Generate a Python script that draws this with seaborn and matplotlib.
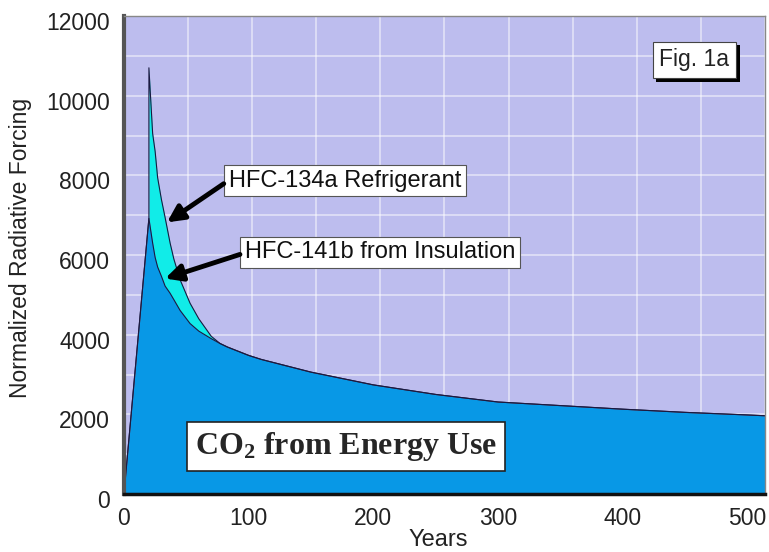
import numpy as np
import pandas as pd
import matplotlib
matplotlib.use("Agg")
import matplotlib.pyplot as plt
import matplotlib.transforms as mtransforms
import matplotlib.patheffects as pe
from matplotlib.ticker import MultipleLocator
import seaborn as sns

# values
years = [0, 20, 20, 23, 25, 27, 30, 33, 37, 40, 45, 53, 60, 70, 77, 83, 100,
         110, 150, 200, 250, 300, 350, 400, 450, 500, 514]
co2_energy = [0, 6920, 6920, 6300, 5940, 5700, 5470, 5220, 5040, 4880, 4610,
              4280, 4090, 3900, 3780, 3690, 3480, 3380, 3060, 2740, 2500,
              2310, 2220, 2130, 2050, 1985, 1965]
total_forcing = [0, 6920, 10700, 9050, 8600, 7940, 7400, 6940, 6300, 5900,
                 5380, 4790, 4400, 3960, 3780, 3690, 3480, 3380, 3060, 2740,
                 2500, 2310, 2220, 2130, 2050, 1985, 1965]

df = pd.DataFrame({"Years": years, "CO2": co2_energy, "Total": total_forcing})

sns.set_style("white", {"axes.facecolor": "#bdbdee"})
plt.rcParams["font.family"] = ["Liberation Sans", "DejaVu Sans"]
plt.rcParams["mathtext.fontset"] = "custom"
plt.rcParams["mathtext.bf"] = "Liberation Serif:bold"
plt.rcParams["mathtext.rm"] = "Liberation Serif:bold"

fig = plt.figure(figsize=(7.69, 5.52), dpi=100)
ax = fig.add_axes([0.1612, 0.105, 0.8336, 0.866])

ax.fill_between(df["Years"], df["CO2"], df["Total"], color="#11ece8",
                zorder=2, linewidth=0)
ax.fill_between(df["Years"], 0, df["CO2"], color="#0898e6", zorder=3,
                linewidth=0)
sns.lineplot(data=df, x="Years", y="Total", ax=ax, color="#1a1a40",
             linewidth=0.8, sort=False, estimator=None, zorder=4)
sns.lineplot(data=df, x="Years", y="CO2", ax=ax, color="#1a1a40",
             linewidth=0.8, sort=False, estimator=None, zorder=4)

ax.set_xlim(0, 514)
ax.set_ylim(0, 12000)
ax.xaxis.set_major_locator(MultipleLocator(100))
ax.xaxis.set_minor_locator(MultipleLocator(51.4))
ax.yaxis.set_major_locator(MultipleLocator(2000))
ax.yaxis.set_minor_locator(MultipleLocator(1000))
ax.grid(which="minor", color="white", alpha=0.55, linewidth=1.2, zorder=1)
ax.grid(which="major", axis="y", color="white", alpha=0.55, linewidth=1.2,
        zorder=1)
ax.grid(which="major", axis="x", visible=False)
ax.set_axisbelow(True)
ax.tick_params(which="both", length=0, labelsize=16.5, colors="#222222")
ax.tick_params(axis="y", pad=10)
ax.tick_params(axis="x", pad=9)
# y labels in the reference sit a few pixels below their tick
down = mtransforms.ScaledTranslation(0, -5 / 100, fig.dpi_scale_trans)
for t in ax.yaxis.get_major_ticks():
    t.label1.set_transform(t.label1.get_transform() + down)

ax.set_xlabel("Years", fontsize=17, color="#222222")
ax.set_ylabel("Normalized Radiative Forcing", fontsize=16.5, color="#222222")
ax.xaxis.set_label_coords(0.49, -0.074)
ax.yaxis.set_label_coords(-0.143, 0.515)

for side in ["top", "right"]:
    ax.spines[side].set_color("#888888")
    ax.spines[side].set_linewidth(1)
ax.spines["left"].set_color("#555555")
ax.spines["left"].set_linewidth(3)
ax.spines["bottom"].set_color("#111111")
ax.spines["bottom"].set_linewidth(2.5)
for s in ax.spines.values():
    s.set_zorder(6)

box = dict(boxstyle="square,pad=0.2", facecolor="white", edgecolor="#555555",
           linewidth=0.8)
arrow = dict(arrowstyle="-|>,head_length=1.0,head_width=0.5", color="black",
             linewidth=3.5, shrinkA=0, shrinkB=0)

ax.text(84, 7870, "HFC-134a Refrigerant", fontsize=17, va="center",
        ha="left", bbox=box, zorder=7, color="#111111")
ax.annotate("", xy=(34.5, 6820), xytext=(80, 7790), arrowprops=arrow,
            zorder=7)
ax.text(97, 6065, "HFC-141b from Insulation", fontsize=17, va="center",
        ha="left", bbox=box, zorder=7, color="#111111")
ax.annotate("", xy=(33, 5410), xytext=(93, 6015), arrowprops=arrow,
            zorder=7)

ax.text(178, 1200, r"$\mathbf{CO_2}$ from Energy Use", fontsize=23,
        family="Liberation Serif", weight="bold", ha="center", va="center",
        zorder=7,
        bbox=dict(boxstyle="square,pad=0.25", facecolor="white",
                  edgecolor="#222222", linewidth=1.2))

# Fig. 1a label with a drop shadow on its box
ax.text(0.89, 0.908, "Fig. 1a", transform=ax.transAxes, fontsize=16.5,
        ha="center", va="center", color="#222222", zorder=8,
        bbox=dict(boxstyle="square,pad=0.3", facecolor="white",
                  edgecolor="#444444", linewidth=0.8,
                  path_effects=[pe.SimplePatchShadow(offset=(2.5, -2.5),
                                                     shadow_rgbFace="black",
                                                     alpha=1),
                                pe.Normal()]))

fig.savefig("out.png", dpi=100)
